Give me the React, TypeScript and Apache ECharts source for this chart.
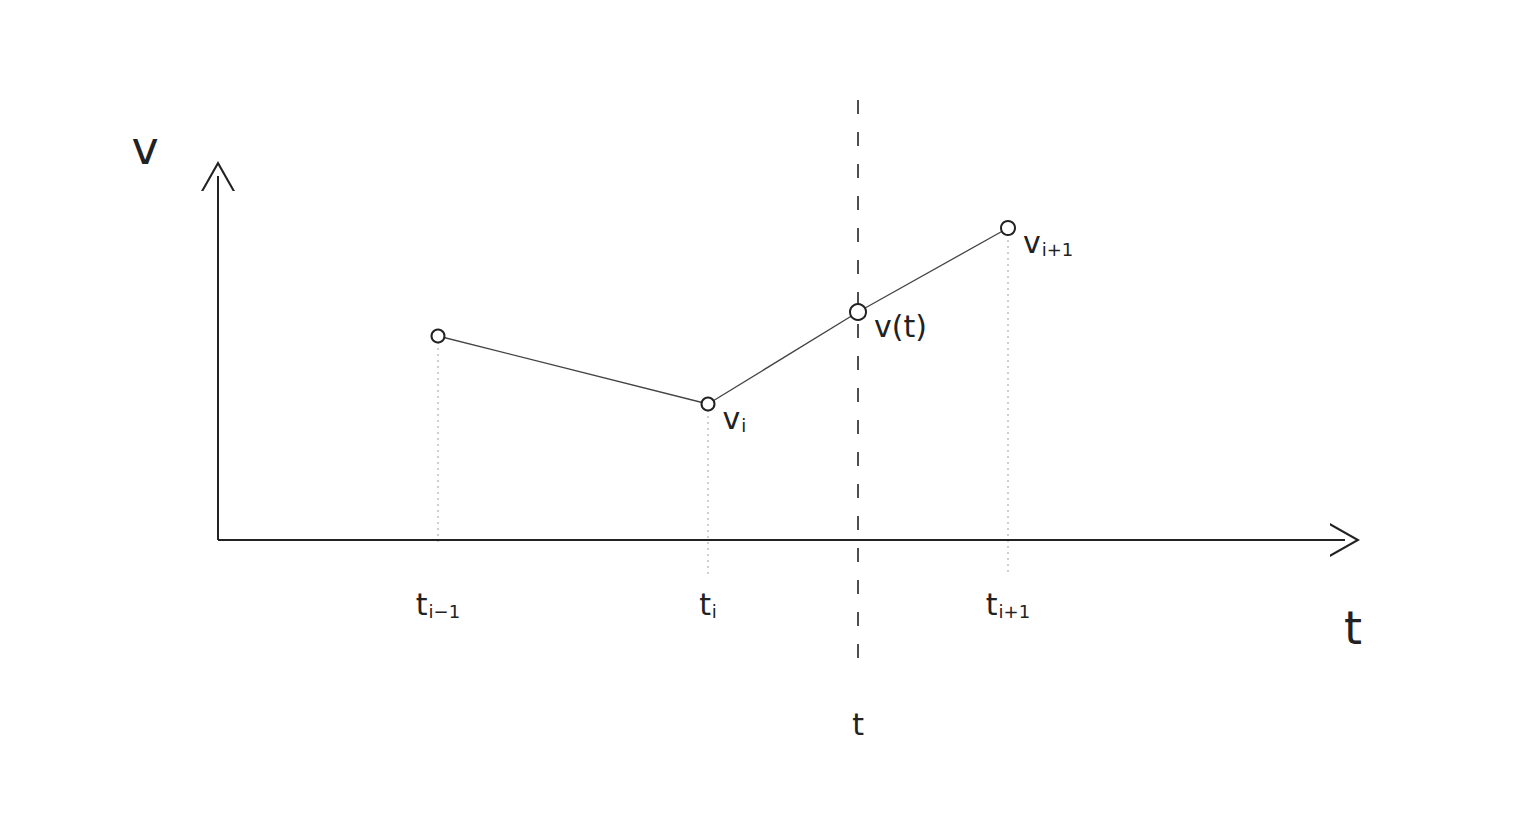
import React, { useEffect, useRef } from "react";
import * as echarts from "echarts";

// sample times and values
const tKeys = ["tPrev", "tI", "tNow", "tNext"];
const tValues = [2.2, 4.9, 6.4, 7.9];
const vValues = [5.1, 3.4, 5.7, 7.8];
const pointLabels = ["", "{v|v}{s|i}", "{v|v(t)}", "{v|v}{s|i+1}"];
const tickLabels = ["{t|t}{s|i−1}", "{t|t}{s|i}", "{t|t}", "{t|t}{s|i+1}"];
const markerSizes = [13, 13, 16, 14];
const dropEnds = [-0.1, -0.9, null, -0.9];
const tLineRange = [11, -3];
const xAxisEnd = 11.27;
const yAxisEnd = 9.1;
const tickLabelY = [-1.6, -1.6, -4.6, -1.6];

const INK = "#222222";
const FONT = "'DejaVu Sans', sans-serif";
const chevron = "path://M0,0 L-10,18 L-8.6,18 L0,2.6 L8.6,18 L10,18 Z";

const rich = {
  v: { fontSize: 30, color: INK, fontFamily: FONT },
  t: { fontSize: 30, color: INK, fontFamily: FONT },
  s: { fontSize: 18, color: INK, fontFamily: FONT, padding: [14, 0, 0, 1] },
};

export default function App() {
  const ref = useRef<HTMLDivElement>(null);
  useEffect(() => {
    if (!ref.current) return;
    const chart = echarts.init(ref.current, undefined, { renderer: "svg" });

    const dropSeries = tValues
      .map((t, i) =>
        dropEnds[i] === null
          ? null
          : {
              type: "line",
              z: 1,
              silent: true,
              symbol: "none",
              lineStyle: { color: "#a0a0a0", width: 1, type: [2, 4] },
              data: [
                [t, vValues[i]],
                [t, dropEnds[i]],
              ],
            }
      )
      .filter(Boolean);

    const option: any = {
      animation: false,
      grid: { left: 18, right: 18, top: 20, bottom: 20 },
      xAxis: { type: "value", min: -2, max: 13, show: false },
      yAxis: { type: "value", min: -7, max: 13, show: false },
      series: [
        ...dropSeries,
        {
          type: "line",
          z: 2,
          silent: true,
          symbol: "none",
          lineStyle: { color: INK, width: 1.6, type: [14, 18] },
          data: [
            [tValues[2], tLineRange[0]],
            [tValues[2], tLineRange[1]],
          ],
        },
        {
          type: "line",
          z: 5,
          silent: true,
          symbol: "emptyCircle",
          showAllSymbol: true,
          itemStyle: { color: INK, borderColor: INK, borderWidth: 2 },
          lineStyle: { color: "#444", width: 1.3 },
          data: tValues.map((t, i) => ({
            value: [t, vValues[i]],
            symbolSize: markerSizes[i],
            label: {
              show: pointLabels[i] !== "",
              formatter: pointLabels[i],
              position: "right",
              offset: [2, 14],
              rich,
            },
          })),
          markLine: {
            silent: true,
            symbol: ["none", chevron],
            symbolSize: [34, 30],
            label: { show: false },
            lineStyle: { color: INK, width: 2, type: "solid" },
            data: [
              [{ coord: [0, 0] }, { coord: [xAxisEnd, 0] }],
              [{ coord: [0, 0] }, { coord: [0, yAxisEnd] }],
            ],
          },
        },
        {
          type: "scatter",
          silent: true,
          symbolSize: 0,
          clip: false,
          itemStyle: { opacity: 1 },
          data: tValues.map((t, i) => ({
            name: tKeys[i],
            value: [t, tickLabelY[i]],
            label: {
              show: true,
              position: "inside",
              formatter: tickLabels[i],
              textBorderWidth: 0,
              rich,
            },
          })),
        },
        {
          type: "scatter",
          silent: true,
          symbolSize: 0,
          clip: false,
          itemStyle: { opacity: 1 },
          data: [
            { value: [-0.73, 9.8], label: { show: true, position: "inside", formatter: "v", fontSize: 46, color: INK, textBorderWidth: 0, fontFamily: FONT } },
            { value: [11.35, -2.2], label: { show: true, position: "inside", formatter: "t", fontSize: 46, color: INK, textBorderWidth: 0, fontFamily: FONT } },
          ],
        },
      ],
    };
    chart.setOption(option);
    return () => chart.dispose();
  }, []);
  return (
    <div
      ref={ref}
      style={{ position: "absolute", left: 0, top: 0, width: 1536, height: 840, background: "#fff" }}
    />
  );
}
